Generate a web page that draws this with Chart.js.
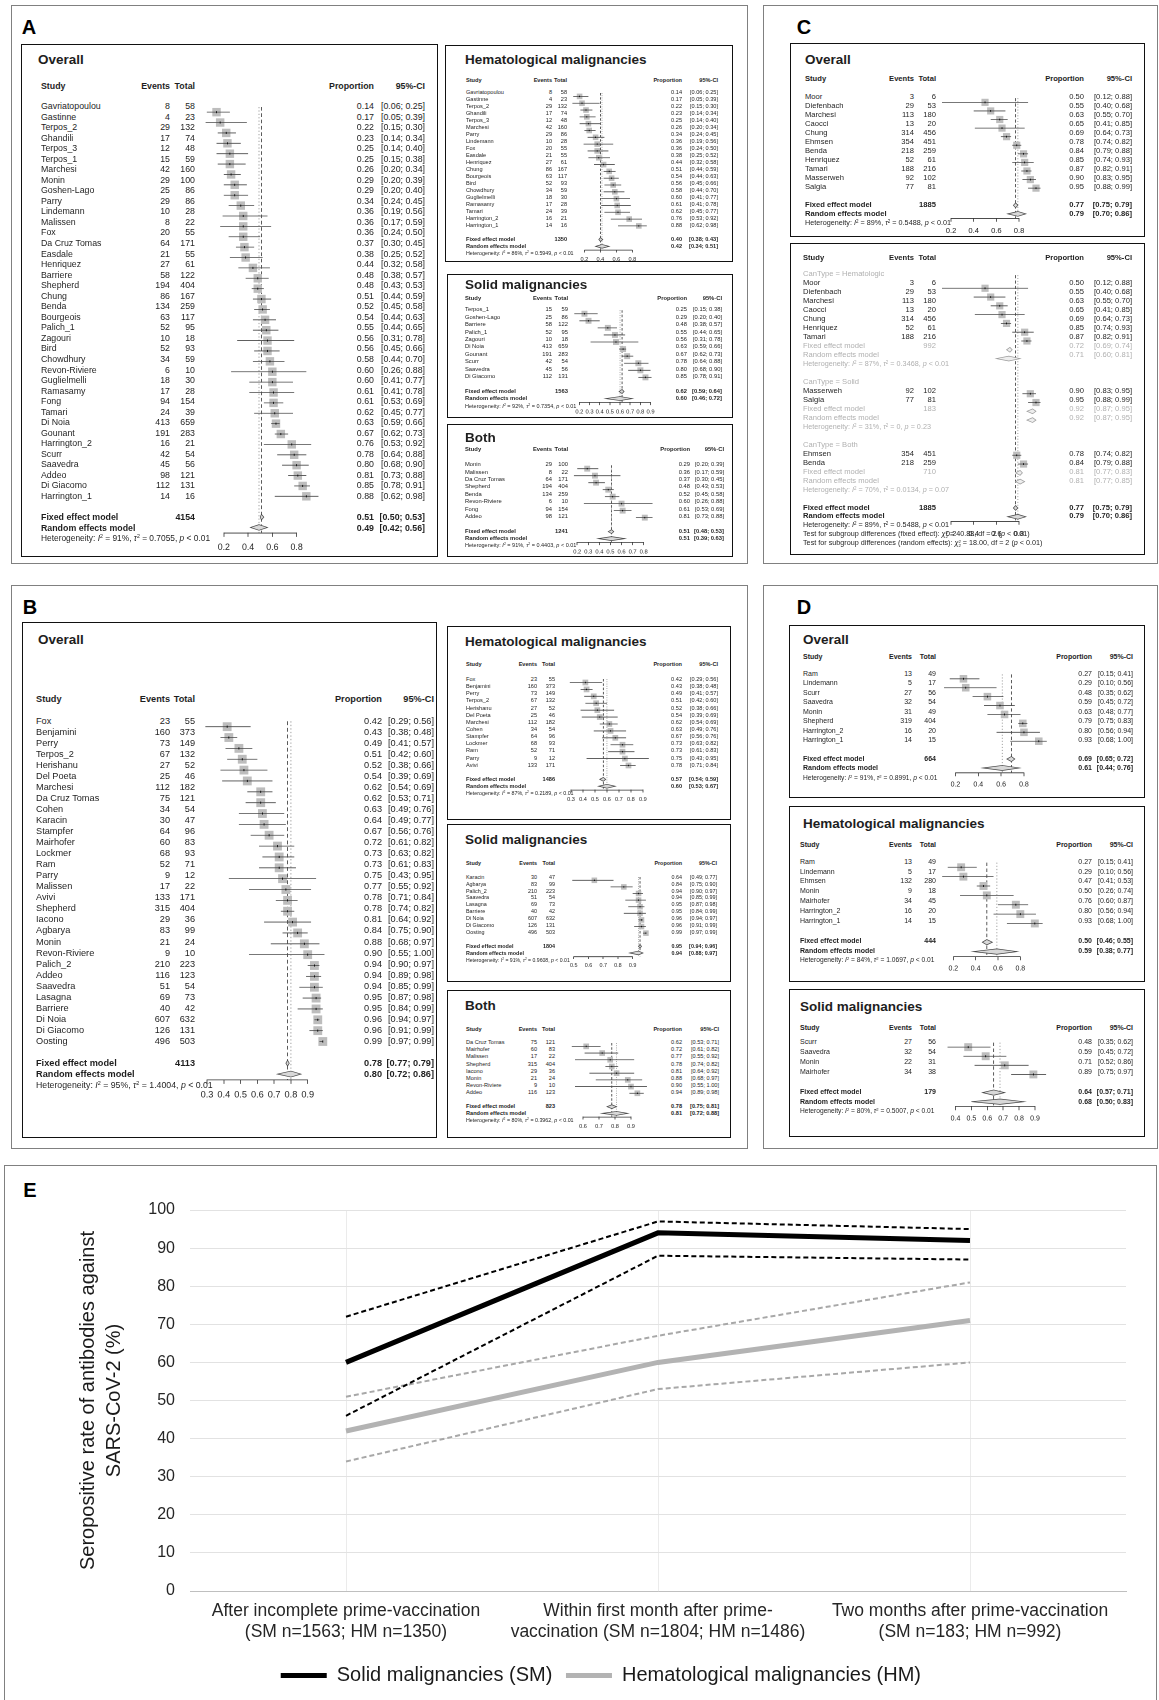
<!DOCTYPE html>
<html>
<head>
<meta charset="utf-8">
<title>Seropositive rate of antibodies against SARS-CoV-2</title>
<script src="https://cdn.jsdelivr.net/npm/chart.js@4.4.1/dist/chart.umd.min.js"></script>
<style>
  html, body { margin: 0; background: #fff; }
  body { font-family: "Liberation Sans", Arial, Helvetica, sans-serif; }
  #page { position: relative; width: 1159px; height: 1700px; overflow: hidden; }
  .frame { position: absolute; border: 1.5px solid #808080; box-sizing: border-box; }
  .box { position: absolute; border: 1.3px solid #111; box-sizing: border-box; }
  .lab { position: absolute; font-weight: bold; font-size: 20px; line-height: 1; transform: translate(-50%, -50%); }
  .t { position: absolute; font-size: 10px; line-height: 12px; white-space: nowrap; color: #1e1e1e; }
  .t sup { font-size: 0.62em; vertical-align: 0.55em; line-height: 0; }
  .ss { display: inline-block; font-size: 0.6em; line-height: 1; vertical-align: -0.45em; }
  .ss span { display: block; }
  canvas { position: absolute; }
</style>
</head>
<body>
<div id="page"></div>
<script>
// ---------- A: after incomplete prime-vaccination ----------
const aAllStudy = ['Gavriatopoulou', 'Gastinne', 'Terpos_2', 'Ghandili', 'Terpos_3', 'Terpos_1', 'Marchesi', 'Monin', 'Goshen-Lago', 'Parry', 'Lindemann', 'Malissen', 'Fox', 'Da Cruz Tomas', 'Easdale', 'Henriquez', 'Barriere', 'Shepherd', 'Chung', 'Benda', 'Bourgeois', 'Palich_1', 'Zagouri', 'Bird', 'Chowdhury', 'Revon-Riviere', 'Guglielmelli', 'Ramasamy', 'Fong', 'Tamari', 'Di Noia', 'Gounant', 'Harrington_2', 'Scurr', 'Saavedra', 'Addeo', 'Di Giacomo', 'Harrington_1'];
const aAllEvents = [8, 4, 29, 17, 12, 15, 42, 29, 25, 29, 10, 8, 20, 64, 21, 27, 58, 194, 86, 134, 63, 52, 10, 52, 34, 6, 18, 17, 94, 24, 413, 191, 16, 42, 45, 98, 112, 14];
const aAllTotal = [58, 23, 132, 74, 48, 59, 160, 100, 86, 86, 28, 22, 55, 171, 55, 61, 122, 404, 167, 259, 117, 95, 18, 93, 59, 10, 30, 28, 154, 39, 659, 283, 21, 54, 56, 121, 131, 16];
const aAllProp = [0.14, 0.17, 0.22, 0.23, 0.25, 0.25, 0.26, 0.29, 0.29, 0.34, 0.36, 0.36, 0.36, 0.37, 0.38, 0.44, 0.48, 0.48, 0.51, 0.52, 0.54, 0.55, 0.56, 0.56, 0.58, 0.60, 0.60, 0.61, 0.61, 0.62, 0.63, 0.67, 0.76, 0.78, 0.80, 0.81, 0.85, 0.88];
const aAllLo = [0.06, 0.05, 0.15, 0.14, 0.14, 0.15, 0.20, 0.20, 0.20, 0.24, 0.19, 0.17, 0.24, 0.30, 0.25, 0.32, 0.38, 0.43, 0.44, 0.45, 0.44, 0.44, 0.31, 0.45, 0.44, 0.26, 0.41, 0.41, 0.53, 0.45, 0.59, 0.62, 0.53, 0.64, 0.68, 0.73, 0.78, 0.62];
const aAllHi = [0.25, 0.39, 0.30, 0.34, 0.40, 0.38, 0.34, 0.39, 0.40, 0.45, 0.56, 0.59, 0.50, 0.45, 0.52, 0.58, 0.57, 0.53, 0.59, 0.58, 0.63, 0.65, 0.78, 0.66, 0.70, 0.88, 0.77, 0.78, 0.69, 0.77, 0.66, 0.73, 0.92, 0.88, 0.90, 0.88, 0.91, 0.98];
const aAllN = 4154, aAllFixed = [0.51, 0.50, 0.53], aAllRandom = [0.49, 0.42, 0.56], aAllHet = ['91%', '0.7055', '< 0.01'];

const aHemStudy = ['Gavriatopoulou', 'Gastinne', 'Terpos_2', 'Ghandili', 'Terpos_3', 'Marchesi', 'Parry', 'Lindemann', 'Fox', 'Easdale', 'Henriquez', 'Chung', 'Bourgeois', 'Bird', 'Chowdhury', 'Guglielmelli', 'Ramasamy', 'Tamari', 'Harrington_2', 'Harrington_1'];
const aHemEvents = [8, 4, 29, 17, 12, 42, 29, 10, 20, 21, 27, 86, 63, 52, 34, 18, 17, 24, 16, 14];
const aHemTotal = [58, 23, 132, 74, 48, 160, 86, 28, 55, 55, 61, 167, 117, 93, 59, 30, 28, 39, 21, 16];
const aHemProp = [0.14, 0.17, 0.22, 0.23, 0.25, 0.26, 0.34, 0.36, 0.36, 0.38, 0.44, 0.51, 0.54, 0.56, 0.58, 0.60, 0.61, 0.62, 0.76, 0.88];
const aHemLo = [0.06, 0.05, 0.15, 0.14, 0.14, 0.20, 0.24, 0.19, 0.24, 0.25, 0.32, 0.44, 0.44, 0.45, 0.44, 0.41, 0.41, 0.45, 0.53, 0.62];
const aHemHi = [0.25, 0.39, 0.30, 0.34, 0.40, 0.34, 0.45, 0.56, 0.50, 0.52, 0.58, 0.59, 0.63, 0.66, 0.70, 0.77, 0.78, 0.77, 0.92, 0.98];
const aHemN = 1350, aHemFixed = [0.40, 0.38, 0.43], aHemRandom = [0.42, 0.34, 0.51], aHemHet = ['86%', '0.5949', '< 0.01'];

const aSolStudy = ['Terpos_1', 'Goshen-Lago', 'Barriere', 'Palich_1', 'Zagouri', 'Di Noia', 'Gounant', 'Scurr', 'Saavedra', 'Di Giacomo'];
const aSolEvents = [15, 25, 58, 52, 10, 413, 191, 42, 45, 112];
const aSolTotal = [59, 86, 122, 95, 18, 659, 283, 54, 56, 131];
const aSolProp = [0.25, 0.29, 0.48, 0.55, 0.56, 0.63, 0.67, 0.78, 0.80, 0.85];
const aSolLo = [0.15, 0.20, 0.38, 0.44, 0.31, 0.59, 0.62, 0.64, 0.68, 0.78];
const aSolHi = [0.38, 0.40, 0.57, 0.65, 0.78, 0.66, 0.73, 0.88, 0.90, 0.91];
const aSolN = 1563, aSolFixed = [0.62, 0.59, 0.64], aSolRandom = [0.60, 0.46, 0.72], aSolHet = ['92%', '0.7354', '< 0.01'];

const aBothStudy = ['Monin', 'Malissen', 'Da Cruz Tomas', 'Shepherd', 'Benda', 'Revon-Riviere', 'Fong', 'Addeo'];
const aBothEvents = [29, 8, 64, 194, 134, 6, 94, 98];
const aBothTotal = [100, 22, 171, 404, 259, 10, 154, 121];
const aBothProp = [0.29, 0.36, 0.37, 0.48, 0.52, 0.60, 0.61, 0.81];
const aBothLo = [0.20, 0.17, 0.30, 0.43, 0.45, 0.26, 0.53, 0.73];
const aBothHi = [0.39, 0.59, 0.45, 0.53, 0.58, 0.88, 0.69, 0.88];
const aBothN = 1241, aBothFixed = [0.51, 0.48, 0.53], aBothRandom = [0.51, 0.39, 0.63], aBothHet = ['91%', '0.4403', '< 0.01'];

// ---------- B: within first month after prime-vaccination ----------
const bAllStudy = ['Fox', 'Benjamini', 'Perry', 'Terpos_2', 'Herishanu', 'Del Poeta', 'Marchesi', 'Da Cruz Tomas', 'Cohen', 'Karacin', 'Stampfer', 'Mairhofer', 'Lockmer', 'Ram', 'Parry', 'Malissen', 'Avivi', 'Shepherd', 'Iacono', 'Agbarya', 'Monin', 'Revon-Riviere', 'Palich_2', 'Addeo', 'Saavedra', 'Lasagna', 'Barriere', 'Di Noia', 'Di Giacomo', 'Oosting'];
const bAllEvents = [23, 160, 73, 67, 27, 25, 112, 75, 34, 30, 64, 60, 68, 52, 9, 17, 133, 315, 29, 83, 21, 9, 210, 116, 51, 69, 40, 607, 126, 496];
const bAllTotal = [55, 373, 149, 132, 52, 46, 182, 121, 54, 47, 96, 83, 93, 71, 12, 22, 171, 404, 36, 99, 24, 10, 223, 123, 54, 73, 42, 632, 131, 503];
const bAllProp = [0.42, 0.43, 0.49, 0.51, 0.52, 0.54, 0.62, 0.62, 0.63, 0.64, 0.67, 0.72, 0.73, 0.73, 0.75, 0.77, 0.78, 0.78, 0.81, 0.84, 0.88, 0.90, 0.94, 0.94, 0.94, 0.95, 0.95, 0.96, 0.96, 0.99];
const bAllLo = [0.29, 0.38, 0.41, 0.42, 0.38, 0.39, 0.54, 0.53, 0.49, 0.49, 0.56, 0.61, 0.63, 0.61, 0.43, 0.55, 0.71, 0.74, 0.64, 0.75, 0.68, 0.55, 0.90, 0.89, 0.85, 0.87, 0.84, 0.94, 0.91, 0.97];
const bAllHi = [0.56, 0.48, 0.57, 0.60, 0.66, 0.69, 0.69, 0.71, 0.76, 0.77, 0.76, 0.82, 0.82, 0.83, 0.95, 0.92, 0.84, 0.82, 0.92, 0.90, 0.97, 1.00, 0.97, 0.98, 0.99, 0.98, 0.99, 0.97, 0.99, 0.99];
const bAllN = 4113, bAllFixed = [0.78, 0.77, 0.79], bAllRandom = [0.80, 0.72, 0.86], bAllHet = ['95%', '1.4004', '< 0.01'];

const bHemStudy = ['Fox', 'Benjamini', 'Perry', 'Terpos_2', 'Herishanu', 'Del Poeta', 'Marchesi', 'Cohen', 'Stampfer', 'Lockmer', 'Ram', 'Parry', 'Avivi'];
const bHemEvents = [23, 160, 73, 67, 27, 25, 112, 34, 64, 68, 52, 9, 133];
const bHemTotal = [55, 373, 149, 132, 52, 46, 182, 54, 96, 93, 71, 12, 171];
const bHemProp = [0.42, 0.43, 0.49, 0.51, 0.52, 0.54, 0.62, 0.63, 0.67, 0.73, 0.73, 0.75, 0.78];
const bHemLo = [0.29, 0.38, 0.41, 0.42, 0.38, 0.39, 0.54, 0.49, 0.56, 0.63, 0.61, 0.43, 0.71];
const bHemHi = [0.56, 0.48, 0.57, 0.60, 0.66, 0.69, 0.69, 0.76, 0.76, 0.82, 0.83, 0.95, 0.84];
const bHemN = 1486, bHemFixed = [0.57, 0.54, 0.59], bHemRandom = [0.60, 0.53, 0.67], bHemHet = ['87%', '0.2189', '< 0.01'];

const bSolStudy = ['Karacin', 'Agbarya', 'Palich_2', 'Saavedra', 'Lasagna', 'Barriere', 'Di Noia', 'Di Giacomo', 'Oosting'];
const bSolEvents = [30, 83, 210, 51, 69, 40, 607, 126, 496];
const bSolTotal = [47, 99, 223, 54, 73, 42, 632, 131, 503];
const bSolProp = [0.64, 0.84, 0.94, 0.94, 0.95, 0.95, 0.96, 0.96, 0.99];
const bSolLo = [0.49, 0.75, 0.90, 0.85, 0.87, 0.84, 0.94, 0.91, 0.97];
const bSolHi = [0.77, 0.90, 0.97, 0.99, 0.98, 0.99, 0.97, 0.99, 0.99];
const bSolN = 1804, bSolFixed = [0.95, 0.94, 0.96], bSolRandom = [0.94, 0.88, 0.97], bSolHet = ['91%', '0.9608', '< 0.01'];

const bBothStudy = ['Da Cruz Tomas', 'Mairhofer', 'Malissen', 'Shepherd', 'Iacono', 'Monin', 'Revon-Riviere', 'Addeo'];
const bBothEvents = [75, 60, 17, 315, 29, 21, 9, 116];
const bBothTotal = [121, 83, 22, 404, 36, 24, 10, 123];
const bBothProp = [0.62, 0.72, 0.77, 0.78, 0.81, 0.88, 0.90, 0.94];
const bBothLo = [0.53, 0.61, 0.55, 0.74, 0.64, 0.68, 0.55, 0.89];
const bBothHi = [0.71, 0.82, 0.92, 0.82, 0.92, 0.97, 1.00, 0.98];
const bBothN = 823, bBothFixed = [0.78, 0.75, 0.81], bBothRandom = [0.81, 0.72, 0.88], bBothHet = ['80%', '0.3962', '< 0.01'];

// ---------- C: two months after prime-vaccination ----------
const cStudy = ['Moor', 'Diefenbach', 'Marchesi', 'Caocci', 'Chung', 'Ehmsen', 'Benda', 'Henriquez', 'Tamari', 'Masserweh', 'Salgia'];
const cEvents = [3, 29, 113, 13, 314, 354, 218, 52, 188, 92, 77];
const cTotal = [6, 53, 180, 20, 456, 451, 259, 61, 216, 102, 81];
const cProp = [0.50, 0.55, 0.63, 0.65, 0.69, 0.78, 0.84, 0.85, 0.87, 0.90, 0.95];
const cLo = [0.12, 0.40, 0.55, 0.41, 0.64, 0.74, 0.79, 0.74, 0.82, 0.83, 0.88];
const cHi = [0.88, 0.68, 0.70, 0.85, 0.73, 0.82, 0.88, 0.93, 0.91, 0.95, 0.99];
const cN = 1885, cFixed = [0.77, 0.75, 0.79], cRandom = [0.79, 0.70, 0.86], cHet = ['89%', '0.5488', '< 0.01'];

const cGroups = ['Hematologic', 'Solid', 'Both'];
const cGroupMembers = [['Moor', 'Diefenbach', 'Marchesi', 'Caocci', 'Chung', 'Henriquez', 'Tamari'], ['Masserweh', 'Salgia'], ['Ehmsen', 'Benda']];
const cGroupN = [992, 183, 710];
const cGroupFixed = [[0.72, 0.69, 0.74], [0.92, 0.87, 0.95], [0.81, 0.77, 0.83]];
const cGroupRandom = [[0.71, 0.60, 0.81], [0.92, 0.87, 0.95], [0.81, 0.77, 0.85]];
const cGroupHet = [['87%', '0.3468', '< 0.01'], ['31%', '0', '= 0.23'], ['70%', '0.0134', '= 0.07']];
const cTestChi = ['40.88', '18.00'];

// ---------- D ----------
const dAllStudy = ['Ram', 'Lindemann', 'Scurr', 'Saavedra', 'Monin', 'Shepherd', 'Harrington_2', 'Harrington_1'];
const dAllEvents = [13, 5, 27, 32, 31, 319, 16, 14];
const dAllTotal = [49, 17, 56, 54, 49, 404, 20, 15];
const dAllProp = [0.27, 0.29, 0.48, 0.59, 0.63, 0.79, 0.80, 0.93];
const dAllLo = [0.15, 0.10, 0.35, 0.45, 0.48, 0.75, 0.56, 0.68];
const dAllHi = [0.41, 0.56, 0.62, 0.72, 0.77, 0.83, 0.94, 1.00];
const dAllN = 664, dAllFixed = [0.69, 0.65, 0.72], dAllRandom = [0.61, 0.44, 0.76], dAllHet = ['91%', '0.8991', '< 0.01'];

const dHemStudy = ['Ram', 'Lindemann', 'Ehmsen', 'Monin', 'Mairhofer', 'Harrington_2', 'Harrington_1'];
const dHemEvents = [13, 5, 132, 9, 34, 16, 14];
const dHemTotal = [49, 17, 280, 18, 45, 20, 15];
const dHemProp = [0.27, 0.29, 0.47, 0.50, 0.76, 0.80, 0.93];
const dHemLo = [0.15, 0.10, 0.41, 0.26, 0.60, 0.56, 0.68];
const dHemHi = [0.41, 0.56, 0.53, 0.74, 0.87, 0.94, 1.00];
const dHemN = 444, dHemFixed = [0.50, 0.46, 0.55], dHemRandom = [0.59, 0.38, 0.77], dHemHet = ['84%', '1.0697', '< 0.01'];

const dSolStudy = ['Scurr', 'Saavedra', 'Monin', 'Mairhofer'];
const dSolEvents = [27, 32, 22, 34];
const dSolTotal = [56, 54, 31, 38];
const dSolProp = [0.48, 0.59, 0.71, 0.89];
const dSolLo = [0.35, 0.45, 0.52, 0.75];
const dSolHi = [0.62, 0.72, 0.86, 0.97];
const dSolN = 179, dSolFixed = [0.64, 0.57, 0.71], dSolRandom = [0.68, 0.50, 0.83], dSolHet = ['80%', '0.5007', '< 0.01'];

// ---------- E: pooled rates over time ----------
const eCats = [
    ['After incomplete prime-vaccination', '(SM n=1563; HM n=1350)'],
    ['Within first month after prime-', 'vaccination (SM n=1804; HM n=1486)'],
    ['Two months after prime-vaccination', '(SM n=183; HM n=992)']
];
const eSeries = ['Solid malignancies (SM)', 'Hematological malignancies (HM)'];
const eSM = [60, 94, 92];
const eSMLo = [46, 88, 87];
const eSMHi = [72, 97, 95];
const eHM = [42, 60, 71];
const eHMLo = [34, 53, 60];
const eHMHi = [51, 67, 81];
const eYTicks = [0, 10, 20, 30, 40, 50, 60, 70, 80, 90, 100];

// ------------------------------------------------------------
const page = document.getElementById('page');
Chart.defaults.font.family = '"Liberation Sans", Arial, Helvetica, sans-serif';
const GRAY = '#b0b0b0';

function rect(x, y, w, h, cls) {
    const d = document.createElement('div');
    d.className = cls;
    d.style.left = x + 'px';
    d.style.top = y + 'px';
    d.style.width = w + 'px';
    d.style.height = h + 'px';
    page.appendChild(d);
}

function panelLabel(x, y, s) {
    const d = document.createElement('div');
    d.className = 'lab';
    d.textContent = s;
    d.style.left = x + 'px';
    d.style.top = y + 'px';
    page.appendChild(d);
}

// text drawn at 10px and scaled, so very small sizes still render
function putText(x, y, html, fs, o = {}) {
    const d = document.createElement('div');
    d.className = 't';
    d.innerHTML = String(html);
    d.style.left = x + 'px';
    d.style.top = y + 'px';
    d.style.transformOrigin = (o.right ? '100%' : '0') + ' 50%';
    d.style.transform = 'translate(' + (o.right ? '-100%' : '0') + ',-50%) scale(' + (fs / 10) + ')';
    if (o.bold) d.style.fontWeight = 'bold';
    if (o.color) d.style.color = o.color;
    page.appendChild(d);
}

const ciText = (lo, hi) => '[' + lo.toFixed(2) + '; ' + hi.toFixed(2) + ']';
const hetHtml = h => 'Heterogeneity: <i>I</i><sup>2</sup> = ' + h[0] + ', <i>&tau;</i><sup>2</sup> = ' + h[1] + ', <i>p</i> ' + h[2].replace('<', '&lt;');

function studyRows(study, events, total, prop, lo, hi) {
    return study.map((s, i) => ({ kind: 'study', name: s, ev: events[i], tot: total[i], est: prop[i], lo: lo[i], hi: hi[i] }));
}

function summaryRows(n, fixed, random, het, gray) {
    return [
        { kind: 'fixed', name: 'Fixed effect model', tot: n, est: fixed[0], lo: fixed[1], hi: fixed[2], gray },
        { kind: 'random', name: 'Random effects model', est: random[0], lo: random[1], hi: random[2], gray },
        { kind: 'het', het, gray }
    ];
}

function simpleRows(study, events, total, prop, lo, hi, n, fixed, random, het) {
    return [...studyRows(study, events, total, prop, lo, hi), { kind: 'blank' }, ...summaryRows(n, fixed, random, het, false)];
}

function subgroupRows() {
    const rows = [];
    cGroups.forEach((g, gi) => {
        rows.push({ kind: 'label', name: 'CanType = ' + g, gray: true });
        cGroupMembers[gi].forEach(s => {
            const k = cStudy.indexOf(s);
            rows.push({ kind: 'study', name: s, ev: cEvents[k], tot: cTotal[k], est: cProp[k], lo: cLo[k], hi: cHi[k] });
        });
        rows.push(...summaryRows(cGroupN[gi], cGroupFixed[gi], cGroupRandom[gi], cGroupHet[gi], true));
        rows.push({ kind: 'blank' });
    });
    rows.push(...summaryRows(cN, cFixed, cRandom, cHet, false));
    rows.push({ kind: 'test', html: 'Test for subgroup differences (fixed effect): <i>&chi;</i><span class="ss"><span>2</span><span>2</span></span> = ' + cTestChi[0] + ', df = 2 (<i>p</i> &lt; 0.01)' });
    rows.push({ kind: 'test', html: 'Test for subgroup differences (random effects): <i>&chi;</i><span class="ss"><span>2</span><span>2</span></span> = ' + cTestChi[1] + ', df = 2 (<i>p</i> &lt; 0.01)' });
    return rows;
}

function forest(L, rows, vlines) {
    rect(L.box[0], L.box[1], L.box[2], L.box[3], 'box');
    const [cS, cE, cT, cP, cC] = L.cols;
    const fs = L.fs, rh = L.rowH;

    let last = 0;
    rows.forEach((r, i) => { if (r.kind === 'study' || r.kind === 'fixed' || r.kind === 'random') last = i; });
    const n = last + 1;
    const tl = rh * 0.4, pad = fs * 0.6;
    const w = Math.round(L.kx * (L.xr[1] - L.xr[0]));
    // chart.js reserves the tick padding twice below a horizontal axis
    const h = Math.round(n * rh + tl + 2 * pad + fs * 1.2);
    const cv = document.createElement('canvas');
    cv.width = w;
    cv.height = h;
    cv.style.left = (L.x0 + L.kx * L.xr[0]) + 'px';
    cv.style.top = (L.row0 - rh / 2) + 'px';
    page.appendChild(cv);

    const marks = {
        id: 'forestMarks',
        beforeDatasetsDraw(chart) {
            const { ctx, chartArea: a, scales: { x } } = chart;
            ctx.save();
            ctx.lineWidth = 0.8;
            ctx.strokeStyle = '#333';
            ctx.setLineDash([rh * 0.35, rh * 0.25]);
            let px = x.getPixelForValue(vlines[0]);
            ctx.beginPath(); ctx.moveTo(px, a.top); ctx.lineTo(px, a.bottom); ctx.stroke();
            ctx.strokeStyle = '#8c8c8c';
            ctx.setLineDash([rh * 0.12, rh * 0.2]);
            px = x.getPixelForValue(vlines[1]);
            ctx.beginPath(); ctx.moveTo(px, a.top); ctx.lineTo(px, a.bottom); ctx.stroke();
            ctx.restore();
        },
        afterDatasetsDraw(chart) {
            const { ctx, chartArea: a, scales: { x, y } } = chart;
            ctx.save();
            rows.forEach((r, i) => {
                const py = y.getPixelForValue(i);
                if (r.kind === 'study') {
                    ctx.strokeStyle = '#4a4a4a';
                    ctx.lineWidth = 0.8;
                    ctx.beginPath();
                    ctx.moveTo(x.getPixelForValue(r.lo), py);
                    ctx.lineTo(x.getPixelForValue(r.hi), py);
                    ctx.stroke();
                    ctx.fillStyle = '#000';
                    ctx.fillRect(x.getPixelForValue(r.est) - 0.4, py - rh * 0.1, 0.8, rh * 0.2);
                } else if (r.kind === 'fixed' || r.kind === 'random') {
                    const hh = rh * 0.27, pe = x.getPixelForValue(r.est);
                    ctx.beginPath();
                    ctx.moveTo(x.getPixelForValue(r.lo), py);
                    ctx.lineTo(pe, py - hh);
                    ctx.lineTo(x.getPixelForValue(r.hi), py);
                    ctx.lineTo(pe, py + hh);
                    ctx.closePath();
                    ctx.fillStyle = r.gray ? '#eeeeee' : '#d8d8d8';
                    ctx.fill();
                    ctx.strokeStyle = r.gray ? '#9a9a9a' : '#444';
                    ctx.lineWidth = 0.7;
                    ctx.stroke();
                }
            });
            ctx.strokeStyle = '#333';
            ctx.lineWidth = 0.8;
            ctx.beginPath();
            ctx.moveTo(x.getPixelForValue(L.ticks[0]), a.bottom + 0.4);
            ctx.lineTo(x.getPixelForValue(L.ticks[L.ticks.length - 1]), a.bottom + 0.4);
            ctx.stroke();
            ctx.restore();
        }
    };

    const pts = [];
    rows.forEach((r, i) => { if (r.kind === 'study') pts.push({ x: r.est, y: i }); });

    new Chart(cv, {
        type: 'scatter',
        data: {
            datasets: [{
                data: pts,
                pointStyle: 'rect',
                pointRadius: rh * 0.4 / Math.SQRT1_2,
                backgroundColor: '#bdbdbd',
                pointBorderWidth: 0,
                clip: false
            }]
        },
        options: {
            responsive: false,
            animation: false,
            events: [],
            devicePixelRatio: 2,
            layout: { padding: 0 },
            plugins: { legend: { display: false }, tooltip: { enabled: false } },
            scales: {
                x: {
                    type: 'linear',
                    bounds: 'data',
                    min: L.xr[0],
                    max: L.xr[0] + w / L.kx,
                    afterBuildTicks: s => { s.ticks = L.ticks.map(v => ({ value: v })); },
                    ticks: { autoSkip: false, maxRotation: 0, padding: pad, font: { size: fs }, color: '#222', callback: v => String(v) },
                    grid: { drawOnChartArea: false, drawTicks: true, tickLength: tl, color: '#333', lineWidth: 0.8 },
                    border: { display: false }
                },
                y: { type: 'linear', bounds: 'data', display: false, reverse: true, min: -0.5, max: n - 0.5 }
            }
        },
        plugins: [marks]
    });

    // table text
    if (L.title) putText(L.titleX, L.titleY, L.title, 13.5, { bold: true });
    putText(cS, L.headY, 'Study', fs, { bold: true });
    putText(cE, L.headY, 'Events', fs, { bold: true, right: true });
    putText(cT, L.headY, 'Total', fs, { bold: true, right: true });
    putText(cP, L.headY, 'Proportion', fs, { bold: true, right: true });
    putText(cC, L.headY, '95%-CI', fs, { bold: true, right: true });

    rows.forEach((r, i) => {
        const yy = L.row0 + i * rh;
        const col = r.gray ? GRAY : null;
        if (r.kind === 'study') {
            putText(cS, yy, r.name, fs);
            putText(cE, yy, r.ev, fs, { right: true });
            putText(cT, yy, r.tot, fs, { right: true });
            putText(cP, yy, r.est.toFixed(2), fs, { right: true });
            putText(cC, yy, ciText(r.lo, r.hi), fs, { right: true });
        } else if (r.kind === 'label') {
            putText(cS, yy, r.name, fs, { color: col });
        } else if (r.kind === 'fixed' || r.kind === 'random') {
            const b = !r.gray;
            putText(cS, yy, r.name, fs, { bold: b, color: col });
            if (r.tot) putText(cT, yy, r.tot, fs, { bold: b, color: col, right: true });
            putText(cP, yy, r.est.toFixed(2), fs, { bold: b, color: col, right: true });
            putText(cC, yy, ciText(r.lo, r.hi), fs, { bold: b, color: col, right: true });
        } else if (r.kind === 'het') {
            putText(cS, yy, hetHtml(r.het), fs * 0.95, { color: col });
        } else if (r.kind === 'test') {
            putText(cS, yy, r.html, fs * 0.95);
        }
    });
}

// ---------- panel frames ----------
rect(11, 5, 737, 559, 'frame');
rect(763, 5, 395, 559, 'frame');
rect(11, 585, 737, 564, 'frame');
rect(763, 585, 395, 564, 'frame');
rect(4, 1165, 1153, 540, 'frame');
panelLabel(29, 27, 'A');
panelLabel(804, 27, 'C');
panelLabel(30, 607, 'B');
panelLabel(804, 607, 'D');
panelLabel(30, 1190, 'E');

const T2 = [0.2, 0.4, 0.6, 0.8];

// A
forest({ box: [21, 44, 417, 513], title: 'Overall', titleX: 38, titleY: 59.5, headY: 85.6, row0: 106, rowH: 10.54, fs: 8.8,
    cols: [41, 170, 195, 374, 425], x0: 193.3, kx: 133.3, ticks: T2, xr: [0.02, 1.02] },
    simpleRows(aAllStudy, aAllEvents, aAllTotal, aAllProp, aAllLo, aAllHi, aAllN, aAllFixed, aAllRandom, aAllHet), [aAllFixed[0], aAllRandom[0]]);
forest({ box: [445, 45, 288, 217], title: 'Hematological malignancies', titleX: 465, titleY: 60, headY: 80, row0: 92.3, rowH: 7.0, fs: 5.6,
    cols: [465.7, 552, 567, 682, 718], x0: 564.4, kx: 88, ticks: T2, xr: [0.02, 1.02] },
    simpleRows(aHemStudy, aHemEvents, aHemTotal, aHemProp, aHemLo, aHemHi, aHemN, aHemFixed, aHemRandom, aHemHet), [aHemFixed[0], aHemRandom[0]]);
forest({ box: [447, 274, 286, 144], title: 'Solid malignancies', titleX: 465, titleY: 285, headY: 298.3, row0: 309.3, rowH: 7.43, fs: 5.8,
    cols: [465, 552, 568, 687, 722], x0: 553.8, kx: 111, ticks: [0.2, 0.3, 0.4, 0.5, 0.6, 0.7, 0.8, 0.9], xr: [0.1, 1.0] },
    simpleRows(aSolStudy, aSolEvents, aSolTotal, aSolProp, aSolLo, aSolHi, aSolN, aSolFixed, aSolRandom, aSolHet), [aSolFixed[0], aSolRandom[0]]);
forest({ box: [447, 424, 286, 133], title: 'Both', titleX: 465, titleY: 438.3, headY: 449.3, row0: 464.3, rowH: 7.38, fs: 5.8,
    cols: [465, 552, 568, 690, 724], x0: 550.3, kx: 120, ticks: [0.2, 0.3, 0.4, 0.5, 0.6, 0.7, 0.8], xr: [0.1, 1.0] },
    simpleRows(aBothStudy, aBothEvents, aBothTotal, aBothProp, aBothLo, aBothHi, aBothN, aBothFixed, aBothRandom, aBothHet), [aBothFixed[0], aBothRandom[0]]);

// B
const T39 = [0.3, 0.4, 0.5, 0.6, 0.7, 0.8, 0.9];
forest({ box: [22, 622, 415, 516], title: 'Overall', titleX: 37.7, titleY: 640, headY: 698.9, row0: 720.7, rowH: 11.04, fs: 9.2,
    cols: [35.7, 170.4, 195, 381.7, 434], x0: 147.65, kx: 182.5, ticks: T39, xr: [0.2, 1.05] },
    simpleRows(bAllStudy, bAllEvents, bAllTotal, bAllProp, bAllLo, bAllHi, bAllN, bAllFixed, bAllRandom, bAllHet), [bAllFixed[0], bAllRandom[0]]);
forest({ box: [447, 626, 284, 194], title: 'Hematological malignancies', titleX: 465, titleY: 642.3, headY: 664, row0: 679, rowH: 7.14, fs: 5.6,
    cols: [465.7, 537, 555, 682, 718], x0: 528.8, kx: 129.6, ticks: T39, xr: [0.2, 1.02] },
    simpleRows(bHemStudy, bHemEvents, bHemTotal, bHemProp, bHemLo, bHemHi, bHemN, bHemFixed, bHemRandom, bHemHet), [bHemFixed[0], bHemRandom[0]]);
forest({ box: [447, 824, 284, 158], title: 'Solid malignancies', titleX: 465, titleY: 840, headY: 862.7, row0: 876.7, rowH: 6.93, fs: 5.4,
    cols: [465.7, 537, 555, 682, 717], x0: 491, kx: 160, ticks: [0.5, 0.6, 0.7, 0.8, 0.9], xr: [0.4, 1.03] },
    simpleRows(bSolStudy, bSolEvents, bSolTotal, bSolProp, bSolLo, bSolHi, bSolN, bSolFixed, bSolRandom, bSolHet), [bSolFixed[0], bSolRandom[0]]);
forest({ box: [447, 990, 284, 148], title: 'Both', titleX: 465, titleY: 1005.7, headY: 1029.3, row0: 1042.3, rowH: 7.08, fs: 5.6,
    cols: [465.7, 537, 555, 682, 719], x0: 475.3, kx: 175, ticks: [0.6, 0.7, 0.8, 0.9], xr: [0.5, 1.03] },
    simpleRows(bBothStudy, bBothEvents, bBothTotal, bBothProp, bBothLo, bBothHi, bBothN, bBothFixed, bBothRandom, bBothHet), [bBothFixed[0], bBothRandom[0]]);

// C
forest({ box: [790, 43, 355, 194], title: 'Overall', titleX: 805, titleY: 60, headY: 79.3, row0: 97.3, rowH: 8.95, fs: 7.6,
    cols: [805, 914, 936, 1084, 1132], x0: 923.2, kx: 123.7, ticks: T2, xr: [0.05, 1.02] },
    simpleRows(cStudy, cEvents, cTotal, cProp, cLo, cHi, cN, cFixed, cRandom, cHet), [cFixed[0], cRandom[0]]);
forest({ box: [790, 243, 355, 312], title: null, headY: 258.3, row0: 274.3, rowH: 8.97, fs: 7.6,
    cols: [803, 914, 936, 1084, 1132], x0: 923.2, kx: 123.7, ticks: T2, xr: [0.05, 1.02] },
    subgroupRows(), [cFixed[0], cRandom[0]]);

// D
forest({ box: [789, 625, 356, 173], title: 'Overall', titleX: 803, titleY: 640, headY: 657.3, row0: 674, rowH: 9.44, fs: 7.0,
    cols: [803, 912, 936, 1092, 1132.5], x0: 926.3, kx: 125, ticks: T2, xr: [0.05, 1.03] },
    simpleRows(dAllStudy, dAllEvents, dAllTotal, dAllProp, dAllLo, dAllHi, dAllN, dAllFixed, dAllRandom, dAllHet), [dAllFixed[0], dAllRandom[0]]);
forest({ box: [789, 806, 356, 176], title: 'Hematological malignancies', titleX: 803, titleY: 824.3, headY: 845, row0: 861.7, rowH: 9.875, fs: 7.0,
    cols: [800, 912, 936, 1092, 1133], x0: 925.1, kx: 123, ticks: T2, xr: [0.05, 1.03] },
    simpleRows(dHemStudy, dHemEvents, dHemTotal, dHemProp, dHemLo, dHemHi, dHemN, dHemFixed, dHemRandom, dHemHet), [dHemFixed[0], dHemRandom[0]]);
forest({ box: [789, 989, 356, 148], title: 'Solid malignancies', titleX: 800, titleY: 1006.7, headY: 1028.3, row0: 1042.3, rowH: 9.88, fs: 7.0,
    cols: [800, 912, 936, 1092, 1133], x0: 881, kx: 175, ticks: [0.4, 0.5, 0.6, 0.7, 0.8, 0.9], xr: [0.3, 1.0] },
    simpleRows(dSolStudy, dSolEvents, dSolTotal, dSolProp, dSolLo, dSolHi, dSolN, dSolFixed, dSolRandom, dSolHet), [dSolFixed[0], dSolRandom[0]]);

// ---------- E ----------
const eCanvas = document.createElement('canvas');
eCanvas.width = 1159;
eCanvas.height = 535;
eCanvas.style.left = '0px';
eCanvas.style.top = '1165px';
page.appendChild(eCanvas);

const ciLine = (label, data, color) => ({ label, data, borderColor: color, borderWidth: 2, borderDash: [5, 3], pointRadius: 0, fill: false });

new Chart(eCanvas, {
    type: 'line',
    data: {
        labels: eCats,
        datasets: [
            { label: eSeries[0], data: eSM, borderColor: '#000', backgroundColor: '#000', borderWidth: 5, pointRadius: 0, pointStyle: 'line', fill: false },
            { label: eSeries[1], data: eHM, borderColor: '#b3b3b3', backgroundColor: '#b3b3b3', borderWidth: 5, pointRadius: 0, pointStyle: 'line', fill: false },
            ciLine('SM lower', eSMLo, '#000'),
            ciLine('SM upper', eSMHi, '#000'),
            ciLine('HM lower', eHMLo, '#a8a8a8'),
            ciLine('HM upper', eHMHi, '#a8a8a8')
        ]
    },
    options: {
        responsive: false,
        animation: false,
        events: [],
        layout: { padding: { left: 75.7, right: 33, top: 45, bottom: 4.4 } },
        plugins: {
            legend: {
                position: 'bottom',
                labels: {
                    usePointStyle: true, pointStyleWidth: 46, padding: 13.6,
                    font: { size: 20 }, color: '#1a1a1a',
                    filter: item => item.datasetIndex < 2
                }
            },
            tooltip: { enabled: false }
        },
        scales: {
            x: {
                offset: true,
                grid: { color: '#ebebeb', drawTicks: false, offset: false },
                border: { color: '#bfbfbf' },
                ticks: { padding: 10, autoSkip: false, maxRotation: 0, font: { size: 17.5, lineHeight: 1.17 }, color: '#262626' }
            },
            y: {
                min: 0, max: 100,
                afterBuildTicks: s => { s.ticks = eYTicks.map(v => ({ value: v })); },
                afterFit: s => { s.width = 114.3; },
                ticks: { padding: 15, font: { size: 16 }, color: '#262626' },
                grid: { color: '#e2e2e2', drawTicks: false },
                border: { display: false },
                title: {
                    display: true,
                    text: ['Seropositive rate of antibodies against', 'SARS-CoV-2 (%)'],
                    font: { size: 20, lineHeight: 1.3 },
                    padding: { top: 0, bottom: 0 },
                    color: '#1a1a1a'
                }
            }
        }
    }
});
</script>
</body>
</html>
